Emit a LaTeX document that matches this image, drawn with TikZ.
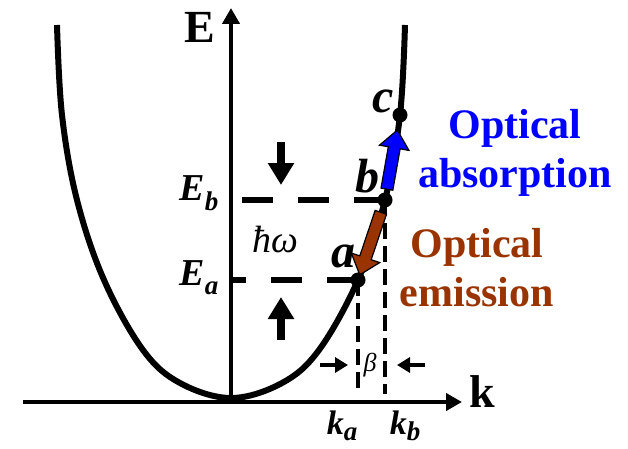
\documentclass[tikz,border=0pt]{standalone}
\usepackage{fontspec}
\setmainfont{Liberation Serif}
\usetikzlibrary{arrows.meta,calc}
\definecolor{absblue}{RGB}{0,0,255}
\definecolor{emibrown}{RGB}{153,51,0}
\newcommand{\dn}[2][9pt]{\raisebox{-#1}{\fontsize{27}{27}\selectfont #2}}
% fat outlined arrow: start, end, colour, tail and tip distance from start
\newcommand{\fatarrow}[5]{%
  \coordinate (ft) at ($(#1)!#4!(#2)$);
  \coordinate (fh) at ($(#1)!#5!(#2)$);
  \coordinate (fb) at ($(fh)!18pt!(ft)$);
  \filldraw[fill=#3,draw=black,line width=1.2pt,line join=miter]
    ($(ft)!6pt!90:(fh)$) -- ($(fb)!6pt!-90:(ft)$) -- ($(fb)!15pt!-90:(ft)$) -- (fh)
    -- ($(fb)!15pt!90:(ft)$) -- ($(fb)!6pt!90:(ft)$) -- ($(ft)!6pt!-90:(fh)$) -- cycle;}

\begin{document}
\begin{tikzpicture}[x=1pt,y=1pt,
  axis/.style={line width=4pt,-{Triangle[width=17pt,length=16pt]}},
  band/.style={line width=6pt},
  lvl/.style={line width=6pt,dash pattern=on 31pt off 25pt},
  drop/.style={line width=3.5pt,dash pattern=on 16pt off 7pt},
  spot/.style={circle,fill,inner sep=0pt,minimum size=15pt},
  push/.style={line width=8pt,-{Triangle[width=25pt,length=22pt]}},
  nudge/.style={line width=4.5pt,-{Triangle[width=15pt,length=13pt]}},
  big/.style={font=\fontsize{46}{46}\selectfont\bfseries},
  lbl/.style={font=\fontsize{48}{48}\selectfont\bfseries\itshape},
  lev/.style={font=\fontsize{38}{38}\selectfont\bfseries\itshape},
  kk/.style={font=\fontsize{34}{34}\selectfont\bfseries\itshape,inner sep=0pt},
  note/.style={font=\fontsize{42}{49}\selectfont\bfseries,align=center}]
\useasboundingbox (-231,-50) rectangle (397,398);

% axes
\coordinate (origin) at (0,0);
\coordinate (kstart) at (-208,-4);
\coordinate (ktip) at (231,-4);
\coordinate (Etip) at (0,390);
\coordinate (foot) at (0,4);
\draw[axis] (kstart) -- (ktip);
\draw[axis] (origin |- kstart) -- (Etip);

% band
\draw[band] plot[smooth,tension=0.6] coordinates {(-174,373) (-169,283) (-154,198)
  (-127,118) (-88,48) (-51,15) (0,0) (51,15) (88,48) (127,118) (154,198) (169,283) (174,373)};
\coordinate (a) at (127,118);
\coordinate (b) at (154,198);
\coordinate (c) at (169,283);

% levels and k values
\draw[lvl] (b) -- (b -| origin);
\draw[lvl] (a) -- (a -| origin);
\draw[drop] (a) -- (a |- foot);
\draw[drop] (b) -- (b |- foot);

% transitions
\fatarrow{b}{c}{absblue}{11pt}{71pt}
\fatarrow{b}{a}{emibrown}{13pt}{79pt}
\node[spot] (pa) at (a) {};
\node[spot] (pb) at (b) {};
\node[spot] (pc) at (c) {};

% hbar omega and beta markers
\coordinate (down1) at (50,256);
\coordinate (down2) at (50,213);
\coordinate (up1) at (50,58);
\coordinate (up2) at (50,101);
\draw[push] (down1) -- (down2);
\draw[push] (up1) -- (up2);
\coordinate (bl1) at (89,33);
\coordinate (bl2) at (117,33);
\coordinate (br1) at (194,33);
\coordinate (br2) at (166,33);
\draw[nudge] (bl1) -- (bl2);
\draw[nudge] (br1) -- (br2);

% labels
\node[big,anchor=base] (Elabel) at (-31,355) {E};
\node[big,anchor=base] (klabel) at (251,-9) {k};
\node[lev,anchor=base east] (Eb) at (-9,198) {E\dn[10pt]{b}};
\node[lev,anchor=base east] (Ea) at (-9,113) {E\dn{a}};
\node[lbl,anchor=base] (alabel) at (112,131) {a};
\node[lbl,anchor=base] (blabel) at (136,206) {b};
\node[lbl,anchor=base] (clabel) at (152,286) {c};
\node[font=\fontsize{38}{38}\selectfont\itshape,anchor=base] (hw) at (44,146) {ħω};
\node[font=\fontsize{26}{26}\selectfont\itshape] (beta) at (139,33) {β};
\node[kk,anchor=base] (ka) at (111,-36) {k\dn[6pt]{a}};
\node[kk,anchor=base] (kb) at (174,-36) {k\dn[6pt]{b}};
\node[note,text=absblue] (abstext) at (284,245) {Optical\\absorption};
\node[note,text=emibrown] (emitext) at (246,130) {Optical\\emission};
\end{tikzpicture}
\end{document}
